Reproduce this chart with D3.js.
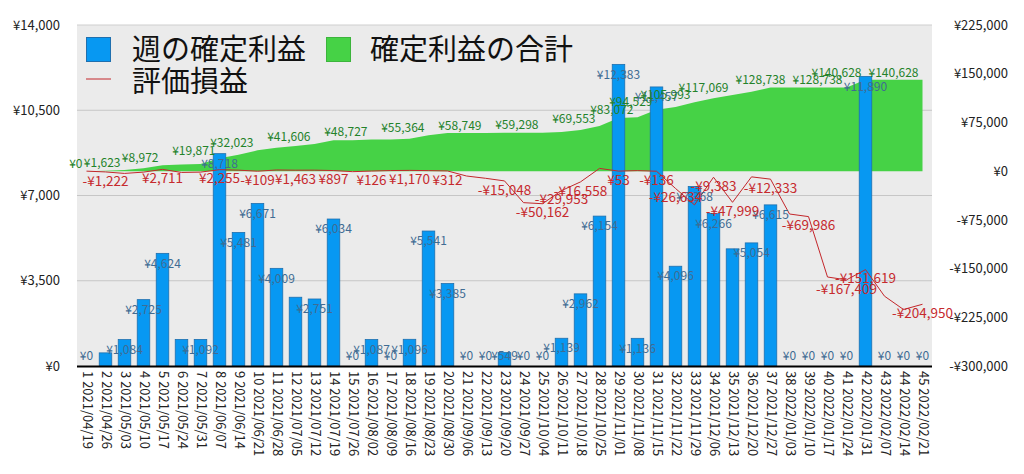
<!DOCTYPE html>
<html><head><meta charset="utf-8">
<script src="https://cdn.jsdelivr.net/npm/d3@7"></script>
<style>
html,body{margin:0;padding:0;background:#fff;}
svg{display:block;font-family:"Noto Sans CJK JP","Noto Sans",sans-serif;}
</style></head>
<body>
<svg id="c" width="1024" height="474"></svg>
<script>
const dates = ["2021/04/19","2021/04/26","2021/05/03","2021/05/10","2021/05/17","2021/05/24","2021/05/31","2021/06/07","2021/06/14","2021/06/21","2021/06/28","2021/07/05","2021/07/12","2021/07/19","2021/07/26","2021/08/02","2021/08/09","2021/08/16","2021/08/23","2021/08/30","2021/09/06","2021/09/13","2021/09/20","2021/09/27","2021/10/04","2021/10/11","2021/10/18","2021/10/25","2021/11/01","2021/11/08","2021/11/15","2021/11/22","2021/11/29","2021/12/06","2021/12/13","2021/12/20","2021/12/27","2022/01/03","2022/01/10","2022/01/17","2022/01/24","2022/01/31","2022/02/07","2022/02/14","2022/02/21"];
const weekly = [0,539,1084,2725,4624,1089,1092,8718,5481,6671,4009,2823,2751,6034,0,1087,0,1096,5541,3385,0,0,549,0,0,1139,2962,6154,12383,1136,11457,4096,7368,6266,4810,5054,6615,0,0,0,0,11890,0,0,0];
const cumulative = [0,539,1623,4348,8972,10061,11153,19871,25352,32023,36032,38855,41606,47640,47640,48727,48727,49823,55364,58749,58749,58749,59298,59298,59298,60437,63399,69553,81936,83072,94529,98625,105993,112259,117069,122123,128738,128738,128738,128738,128738,140628,140628,140628,140628];
const unrealized = [0,-1222,-3500,-1500,2711,-2000,-1500,2255,1500,-109,1800,1463,1500,897,-800,126,900,1170,800,312,-7500,-11000,-15048,-48500,-50162,-29953,-16558,4200,53,800,-136,-26634,-52000,-9383,-47999,-8800,-12333,-66000,-69986,-163000,-167409,-151619,-192500,-213000,-204950];
const leftTicks = [0,3500,7000,10500,14000];
const rightTicks = [-300000,-225000,-150000,-75000,0,75000,150000,225000];
const seriesNames = ["週の確定利益","確定利益の合計","評価損益"];
// which point labels are visible in the reference (week numbers)
const barLabelHidden = [2,6,12,35];
const cumLabelWeeks = [1,3,5,8,10,13,16,19,22,25,28,30,31,33,35,38,41,42,45];
const unrLabelWeeks = [2,5,8,10,12,14,16,18,20,23,25,26,27,29,31,32,34,35,37,39,41,42,45];

const W=1024,H=474;
const m={l:77,r:932,t:25,b:366};
const svg=d3.select("#c");
const cats = d3.range(1,46);
const x=d3.scaleBand().domain(cats).range([m.l,m.r]).paddingInner(0.34).paddingOuter(0.17);
const xc = d => x(d)+x.bandwidth()/2;
const yL=d3.scaleLinear().domain([0,14000]).range([m.b,m.t]);
const yR=d3.scaleLinear().domain([-300000,225000]).range([m.b,m.t]);
const yen = v => (v<0?"-":"")+"¥"+d3.format(",")(Math.abs(v));

svg.append("rect").attr("x",m.l).attr("y",m.t).attr("width",m.r-m.l).attr("height",m.b-m.t).attr("fill","#ebebeb");
svg.append("line").attr("x1",m.l).attr("x2",m.r).attr("y1",m.t).attr("y2",m.t).attr("stroke","#cfcfcf").attr("stroke-width",1.2);
svg.append("g").selectAll("line").data(leftTicks.filter(t=>t>0&&t<14000)).join("line")
  .attr("x1",m.l).attr("x2",m.r).attr("y1",d=>yL(d)).attr("y2",d=>yL(d))
  .attr("stroke","#c6c6c6").attr("stroke-width",1.2);

// area
const area=d3.area().x((d,i)=>xc(cats[i])).y0(yR(0)).y1(d=>yR(d));
svg.append("path").datum(cumulative).attr("d",area).attr("fill","#46d246");

// bars
svg.append("g").selectAll("rect").data(weekly).join("rect")
  .attr("x",(d,i)=>x(cats[i])).attr("width",x.bandwidth())
  .attr("y",d=>yL(d)).attr("height",d=>yL(0)-yL(d))
  .attr("fill","#0798f2").attr("stroke","#1f6fae").attr("stroke-width",0.8);

// line
const line=d3.line().x((d,i)=>xc(cats[i])).y(d=>yR(d));
svg.append("path").datum(unrealized).attr("d",line).attr("fill","none").attr("stroke","#c3272b").attr("stroke-width",1);

// axis line
svg.append("line").attr("x1",m.l).attr("x2",m.r).attr("y1",m.b+0.5).attr("y2",m.b+0.5).attr("stroke","#000").attr("stroke-width",2);

// left axis
const axL=svg.append("g").attr("transform",`translate(${m.l},0)`).call(d3.axisLeft(yL).tickValues(leftTicks).tickFormat(yen).tickSize(0).tickPadding(17));
axL.select(".domain").remove();
axL.selectAll("text").attr("font-size",13).attr("fill","#222").attr("font-family","Noto Sans CJK JP");
// right axis
const axR=svg.append("g").attr("transform",`translate(${m.r},0)`).call(d3.axisRight(yR).tickValues(rightTicks).tickFormat(yen).tickSize(0).tickPadding(76));
axR.select(".domain").remove();
axR.selectAll("text").attr("text-anchor","end").attr("font-size",13).attr("fill","#222").attr("font-family","Noto Sans CJK JP");
// bottom axis
const axB=svg.append("g").attr("transform",`translate(0,${m.b})`).call(d3.axisBottom(x).tickFormat((d,i)=>d+" "+dates[i]).tickSize(0));
axB.select(".domain").remove();
axB.selectAll("text").attr("transform","translate(1,5) rotate(90)").attr("text-anchor","start").attr("dy","0.35em").attr("x",0).attr("y",0)
  .attr("font-size",13).attr("fill","#222").attr("font-family","Noto Sans CJK JP");

// bar labels
svg.append("g").selectAll("text").data(weekly.map((v,i)=>({v,w:cats[i]})).filter(d=>!barLabelHidden.includes(d.w))).join("text")
  .attr("x",d=>xc(d.w)).attr("y",d=>Math.min(yL(d.v)+10,m.b-10)).attr("dy","0.35em")
  .attr("text-anchor","middle").attr("font-size",12).attr("fill","#3f6c93").text(d=>yen(d.v));
// cumulative labels
svg.append("g").selectAll("text").data(cumLabelWeeks).join("text")
  .attr("x",d=>xc(d)-4).attr("y",d=>yR(cumulative[d-1])-7.5).attr("dy","0.35em")
  .attr("text-anchor","end").attr("font-size",12).attr("fill","#23822a").text(d=>yen(cumulative[d-1]));
// unrealized labels
svg.append("g").selectAll("text").data(unrLabelWeeks).join("text")
  .attr("x",d=>xc(d)).attr("y",d=>yR(unrealized[d-1])+9).attr("dy","0.35em")
  .attr("text-anchor","middle").attr("font-size",13.5).attr("fill","#c62a2e").text(d=>yen(unrealized[d-1]));

// legend
const lg=svg.append("g");
lg.append("rect").attr("x",86.5).attr("y",37.5).attr("width",24).attr("height",24).attr("fill","#0798f2").attr("stroke","#1f6fae");
lg.append("text").attr("x",132).attr("y",50).attr("dy","0.35em").attr("font-size",29).attr("fill","#111").text(seriesNames[0]);
lg.append("rect").attr("x",326.5).attr("y",37.5).attr("width",24).attr("height",24).attr("fill","#46d246").attr("stroke","#3cb43c");
lg.append("text").attr("x",370).attr("y",50).attr("dy","0.35em").attr("font-size",29).attr("fill","#111").text(seriesNames[1]);
lg.append("line").attr("x1",86).attr("x2",111).attr("y1",79).attr("y2",79).attr("stroke","#c3272b").attr("stroke-width",1);
lg.append("text").attr("x",132).attr("y",82).attr("dy","0.35em").attr("font-size",29).attr("fill","#111").text(seriesNames[2]);
</script>
</body></html>
